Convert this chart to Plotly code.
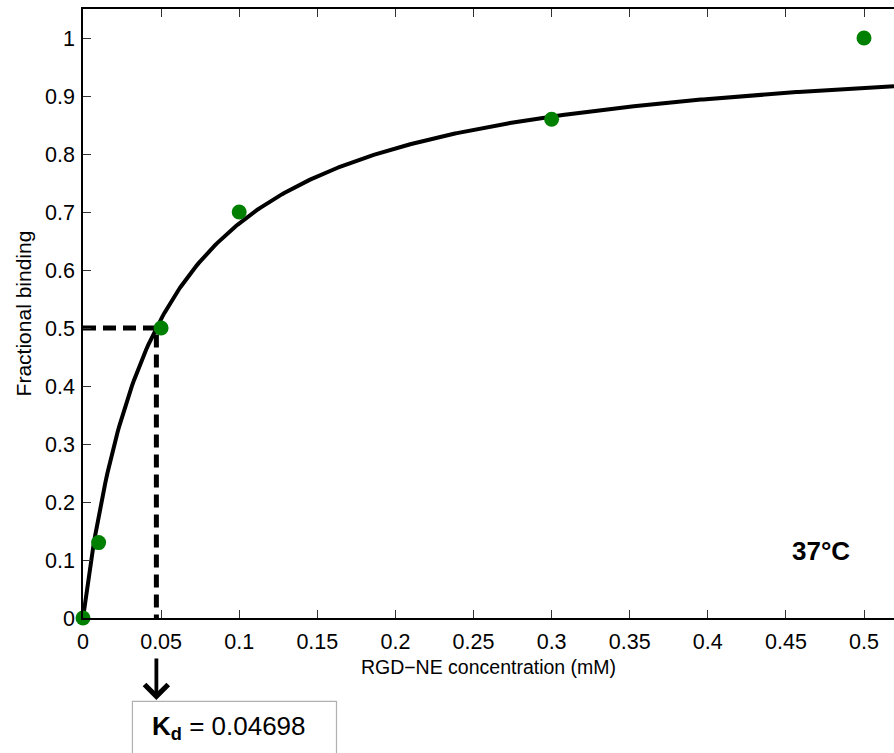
import numpy as np
import plotly.graph_objects as go

# data
conc = [0.0, 0.01, 0.05, 0.1, 0.3, 0.5]
frac = [0.0, 0.13, 0.50, 0.70, 0.86, 1.00]
Kd = 0.04698
Bmax = 1.0
x_ticks = [0, 0.05, 0.1, 0.15, 0.2, 0.25, 0.3, 0.35, 0.4, 0.45, 0.5]
x_ticklabels = ["0", "0.05", "0.1", "0.15", "0.2", "0.25", "0.3", "0.35", "0.4", "0.45", "0.5"]
y_ticks = [0, 0.1, 0.2, 0.3, 0.4, 0.5, 0.6, 0.7, 0.8, 0.9, 1.0]
y_ticklabels = ["0", "0.1", "0.2", "0.3", "0.4", "0.5", "0.6", "0.7", "0.8", "0.9", "1"]

xmax = 0.5192
ymax = 1.05

# fitted one-site binding curve from Kd
xfit = np.linspace(0, xmax, 400)
yfit = Bmax * xfit / (Kd + xfit)

FONT = "Liberation Sans, Arial, Helvetica, sans-serif"

fig = go.Figure()
fig.add_trace(go.Scatter(x=[0, Kd, Kd], y=[0.5, 0.5, 0], mode="lines",
                         line=dict(color="black", width=5, dash="13px,7px"),
                         showlegend=False, hoverinfo="skip"))
fig.add_trace(go.Scatter(x=xfit, y=yfit, mode="lines",
                         line=dict(color="black", width=4),
                         showlegend=False))
fig.add_trace(go.Scatter(x=conc, y=frac, mode="markers",
                         marker=dict(color="#008000", size=15),
                         showlegend=False, cliponaxis=False))

fig.update_layout(
    width=894, height=753,
    margin=dict(l=83, r=0, t=9, b=135),
    paper_bgcolor="white", plot_bgcolor="white",
    font=dict(family=FONT, color="black"),
    xaxis=dict(range=[0, xmax], tickvals=x_ticks, ticktext=x_ticklabels,
               ticks="inside", ticklen=8, tickwidth=1, tickcolor="#333",
               showline=True, linecolor="black", linewidth=2, mirror="ticks",
               showgrid=False, zeroline=False, ticklabelstandoff=3,
               tickfont=dict(size=21.5, family=FONT),
               title=dict(text="RGD\u2212NE concentration (mM)", font=dict(size=19.5, family=FONT), standoff=8)),
    yaxis=dict(range=[0, ymax], tickvals=y_ticks, ticktext=y_ticklabels,
               ticks="inside", ticklen=8, tickwidth=1, tickcolor="#333",
               showline=True, linecolor="black", linewidth=1.5, mirror=False,
               showgrid=False, zeroline=False, ticklabelstandoff=2,
               tickfont=dict(size=21.5, family=FONT),
               title=dict(text="Fractional binding", font=dict(size=21, family=FONT), standoff=8)),
)

# 37°C label
fig.add_annotation(x=0.4725, y=0.1155, xref="x", yref="y",
                   text="<b>37°C</b>", showarrow=False, font=dict(size=26, family=FONT))

# arrow below the axis pointing at Kd
fig.add_annotation(x=Kd, y=(618 - 700) / 609, xref="x", yref="paper", text="",
                   showarrow=True, ax=0, ay=-43, arrowhead=4, arrowsize=1.2,
                   arrowwidth=3.8, arrowcolor="black")

# Kd box
fig.add_shape(type="rect", xref="paper", yref="paper",
              x0=(132.7 - 83.3) / 810.7, x1=(336.7 - 83.3) / 810.7,
              y0=(618 - 701.3) / 609, y1=(618 - 800) / 609,
              line=dict(color="#b0b0b0", width=1.2), fillcolor="white", layer="above")
fig.add_annotation(x=(150 - 83.3) / 810.7, y=(618 - 727) / 609, xref="paper", yref="paper",
                   xanchor="left", yanchor="middle",
                   text="<b>K<sub>d</sub></b> = 0.04698", showarrow=False,
                   font=dict(size=26, family=FONT))

fig.write_html("out.html")
